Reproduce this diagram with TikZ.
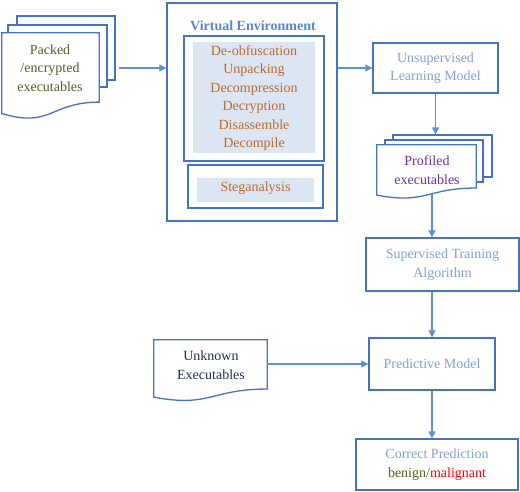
\documentclass[tikz,border=0pt]{standalone}
\usepackage{fontspec}
\setmainfont{Liberation Serif}
\usetikzlibrary{calc,arrows.meta}
\definecolor{boxblue}{HTML}{4472C4}
\definecolor{flowblue}{HTML}{6090D4}
\definecolor{lightblue}{HTML}{7FA2DA}
\definecolor{titleblue}{HTML}{5B87C7}
\definecolor{rust}{HTML}{BA6A30}
\definecolor{olive}{HTML}{4F6228}
\definecolor{plum}{HTML}{7030A0}
\definecolor{navy}{HTML}{1F3050}
\definecolor{paleblue}{HTML}{DCE6F2}
% wavy bottom of a document sheet, drawn over a named node
\newcommand{\docpath}[1]{%
  \draw[docline] (#1.north west) -- (#1.north east)
    -- ($(#1.north east)!0.802!(#1.south east)$)
    .. controls ($(#1.north)!0.802!(#1.south)$) and ($(#1.north)!1.107!(#1.south)$)
    .. ($(#1.north west)!0.934!(#1.south west)$) -- cycle;}
\begin{document}
\begin{tikzpicture}[x=1pt,y=-1pt,
  font=\fontsize{14}{18.5}\selectfont,
  box/.style={draw=boxblue,line width=1.3pt,fill=white,inner sep=0pt},
  sheet/.style={box},
  docarea/.style={inner sep=0pt},
  docline/.style={draw=boxblue,line width=1.3pt,fill=white},
  panel/.style={fill=paleblue,inner sep=0pt},
  txt/.style={align=center,inner sep=0pt},
  flow/.style={draw=flowblue,line width=1.2pt,-{Triangle[length=7pt,width=7pt]}}]
\useasboundingbox (0,0) rectangle (520,491);

% packed executables
\node[sheet,minimum width=98,minimum height=64] (packedC) at (66,48) {};
\node[sheet,minimum width=99,minimum height=62] (packedB) at (57.5,56) {};
\node[docarea,minimum width=97,minimum height=86] (packedA) at (50.5,76) {};
\docpath{packedA}
\node[txt,text=olive] (packedT) at (50,68) {Packed\\/encrypted\\executables};

% virtual environment
\node[box,minimum width=170,minimum height=218] (ve) at (252,112) {};
\node[txt,text=titleblue,font=\fontsize{14}{18.5}\selectfont\bfseries] (veT) at (253,26) {Virtual Environment};
\node[box,minimum width=140,minimum height=125] (unpack) at (254,98.5) {};
\node[panel,minimum width=122,minimum height=111] (unpackP) at (254,97.5) {};
\node[txt,text=rust] (unpackT) at (254,98) {De-obfuscation\\Unpacking\\Decompression\\Decryption\\Disassemble\\Decompile};
\node[box,minimum width=135,minimum height=43] (steg) at (255.5,186.5) {};
\node[panel,minimum width=117,minimum height=24] (stegP) at (255.5,190) {};
\node[txt,text=rust] (stegT) at (255.5,188) {Steganalysis};

% learning models
\node[box,minimum width=125,minimum height=50,txt,text=lightblue] (unsup) at (435.5,68) {Unsupervised\\Learning Model};
\node[sheet,minimum width=99,minimum height=42] (profC) at (442.5,156) {};
\node[sheet,minimum width=98,minimum height=42] (profB) at (434,161) {};
\node[docarea,minimum width=99,minimum height=53.5] (profA) at (426.5,171.75) {};
\docpath{profA}
\node[txt,text=plum] (profT) at (427,170) {Profiled\\executables};
\node[box,minimum width=153,minimum height=53,txt,text=lightblue] (sup) at (442.5,264.5) {Supervised Training\\Algorithm};
\node[box,minimum width=126,minimum height=52,txt,text=lightblue] (pred) at (432,364) {Predictive Model};
\node[docarea,minimum width=113,minimum height=61] (unk) at (210.5,370.5) {};
\docpath{unk}
\node[txt,text=navy] (unkT) at (211,365) {Unknown\\Executables};
\node[box,minimum width=162,minimum height=51,txt,text=lightblue] (corr) at (437,464.5) {Correct Prediction\\{\color{olive}benign/}{\color{red}malignant}};

% connectors
\draw[flow,shorten <=3pt] (packedC.east |- packedT) -- (ve.west |- packedT);
\draw[flow] (ve.east |- unsup.west) -- (unsup.west);
\draw[flow] (unsup.south) -- (unsup.south |- profC.north);
\draw[flow] (pred.north |- profA.south) ++(0,-5) -- (pred.north |- sup.north);
\draw[flow] (pred.north |- sup.south) -- (pred.north);
\draw[flow] (unk.east |- pred.west) -- (pred.west);
\draw[flow] (pred.south) -- (pred.south |- corr.north);
\end{tikzpicture}
\end{document}
